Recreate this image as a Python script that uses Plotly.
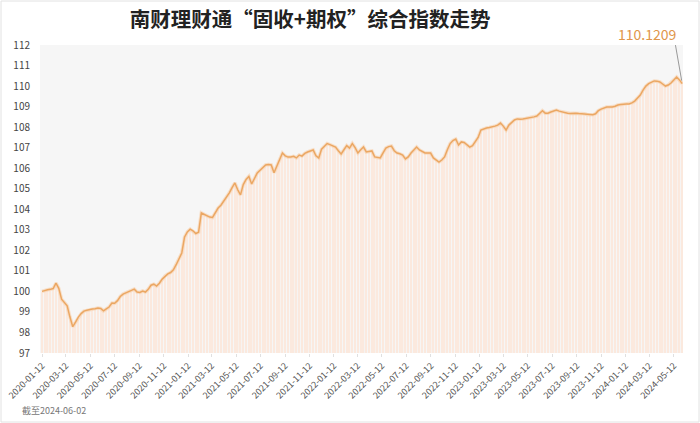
import pandas as pd
import plotly.graph_objects as go

start_date = "2020-01-12"
values = [
    100.00, 100.05, 100.08, 100.10, 100.14, 100.40, 100.15, 99.62, 99.45, 99.30,
    98.75, 98.28, 98.50, 98.75, 98.92, 99.04, 99.08, 99.12, 99.14, 99.16,
    99.19, 99.17, 99.05, 99.15, 99.24, 99.43, 99.42, 99.55, 99.75, 99.87,
    99.92, 99.98, 100.05, 100.11, 99.97, 99.95, 100.02, 99.97, 100.10, 100.30,
    100.35, 100.26, 100.40, 100.60, 100.75, 100.85, 100.92, 101.05, 101.30, 101.60,
    101.87, 102.65, 102.90, 103.03, 102.95, 102.82, 102.88, 103.82, 103.75, 103.67,
    103.62, 103.60, 103.85, 104.06, 104.20, 104.40, 104.55, 104.80, 105.05, 105.28,
    104.95, 104.70, 105.20, 105.45, 105.60, 105.23, 105.50, 105.77, 105.90, 106.05,
    106.16, 106.18, 106.16, 105.78, 106.10, 106.40, 106.74, 106.60, 106.54, 106.55,
    106.58, 106.50, 106.64, 106.59, 106.72, 106.79, 106.85, 106.89, 106.60, 106.50,
    106.93, 107.05, 107.20, 107.15, 107.10, 107.03, 106.85, 106.69, 106.90, 107.10,
    106.98, 107.20, 107.00, 106.74, 106.90, 107.03, 106.79, 106.82, 106.84, 106.55,
    106.52, 106.50, 106.75, 106.98, 107.05, 107.08, 106.85, 106.74, 106.70, 106.64,
    106.45, 106.55, 106.74, 106.90, 107.03, 106.89, 106.82, 106.74, 106.74, 106.74,
    106.50, 106.40, 106.30, 106.40, 106.55, 106.90, 107.20, 107.35, 107.42, 107.13,
    107.28, 107.25, 107.15, 107.03, 107.10, 107.28, 107.50, 107.86, 107.92, 107.96,
    107.98, 108.00, 108.05, 108.10, 108.20, 108.05, 107.86, 108.10, 108.25, 108.35,
    108.40, 108.38, 108.40, 108.42, 108.44, 108.49, 108.50, 108.54, 108.65, 108.80,
    108.68, 108.68, 108.74, 108.78, 108.83, 108.78, 108.74, 108.70, 108.68, 108.66,
    108.68, 108.68, 108.66, 108.65, 108.65, 108.62, 108.60, 108.60, 108.65, 108.80,
    108.88, 108.95, 108.98, 108.98, 108.98, 109.02, 109.08, 109.10, 109.13, 109.13,
    109.13, 109.18, 109.27, 109.40, 109.56, 109.80, 110.00, 110.12, 110.20, 110.25,
    110.24, 110.20, 110.10, 110.00, 110.05, 110.15, 110.30, 110.44, 110.30, 110.1209,
]
dates = pd.date_range(start_date, periods=len(values), freq="7D")

tick_dates = pd.date_range("2020-01-01", "2024-05-01", freq="2MS") + pd.Timedelta(days=11)
tick_labels = [d.strftime("%Y-%m-%d") for d in tick_dates]

title_text = "南财理财通“固收+期权”综合指数走势"
last_label = "110.1209"
footnote = "截至2024-06-02"

FONT = "Noto Sans CJK SC"

fig = go.Figure()
fig.add_trace(go.Bar(x=dates, y=values, marker=dict(color="#fbe9de", line=dict(width=0)),
                     hoverinfo="skip"))
fig.add_trace(go.Scatter(x=dates, y=values, mode="lines",
                         line=dict(color="rgba(248,212,180,0.7)", width=3.5), hoverinfo="skip"))
fig.add_trace(go.Scatter(x=dates, y=values, mode="lines",
                         line=dict(color="#eba763", width=1.5)))

ml, mr, mt, mb = 40, 17, 45, 70
pw, ph = 700 - ml - mr, 423 - mt - mb

fig.update_layout(
    width=700, height=423,
    margin=dict(l=ml, r=mr, t=mt, b=mb, autoexpand=False),
    paper_bgcolor="white", plot_bgcolor="#f6f6f6",
    showlegend=False, bargap=0.5,
    font=dict(family=FONT, color="#333"),
    title=dict(text="<b>" + title_text + "</b>", x=0.443, xanchor="center",
               y=0.953, yanchor="middle", font=dict(size=20.5, color="#222", family=FONT)),
    xaxis=dict(range=["2020-01-07", "2024-06-04"], tickvals=tick_dates, ticktext=tick_labels,
               tickangle=-45, tickfont=dict(size=9, color="#555"), showgrid=False,
               ticks="outside", ticklen=3, tickcolor="#e0e0e0", zeroline=False,
               showline=False, automargin=False),
    yaxis=dict(range=[97, 112], dtick=1, showgrid=False, zeroline=False,
               tickfont=dict(size=10, color="#444"), ticks="outside", ticklen=7,
               tickcolor="rgba(0,0,0,0)", automargin=False),
    annotations=[
        dict(x=dates[-1], y=values[-1], xref="x", yref="y", text="",
             showarrow=True, arrowhead=0, arrowwidth=1, arrowcolor="#999",
             ax=-7, ay=-40, standoff=3),
        dict(x=dates[-1], y=values[-1], xref="x", yref="y", text=last_label,
             showarrow=False, xanchor="right", yanchor="middle", xshift=-3, yshift=50,
             font=dict(size=14, color="#e0964a", family=FONT)),
        dict(x=-20 / pw, y=-(mb - 12) / ph, xref="paper", yref="paper", text=footnote,
             showarrow=False, xanchor="left", yanchor="middle",
             font=dict(size=9, color="#777", family=FONT)),
    ],
    shapes=[dict(type="rect", xref="paper", yref="paper",
                 x0=-(ml - 1) / pw, x1=1 + (mr - 1) / pw,
                 y0=-(mb - 1) / ph, y1=1 + (mt - 1) / ph,
                 line=dict(color="#e2e2e2", width=1), fillcolor="rgba(0,0,0,0)")],
)
fig.write_html("out.html", config={"displayModeBar": False},
               post_script="document.body.style.margin='0';document.body.style.overflow='hidden';")
